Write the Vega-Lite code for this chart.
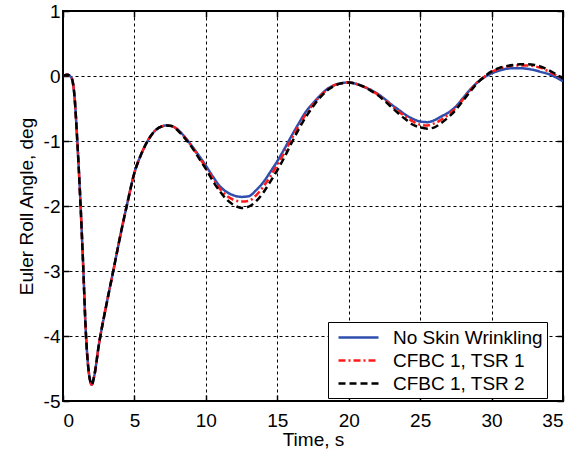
{
  "$schema": "https://vega.github.io/schema/vega-lite/v6.json",
  "width": 500,
  "height": 390,
  "autosize": {"type": "none"},
  "padding": {"left": 63, "top": 11, "right": 18, "bottom": 51},
  "background": "white",
  "config": {
    "view": {"stroke": "black", "strokeWidth": 2},
    "font": "Liberation Sans",
    "axis": {
      "labelFont": "Liberation Sans", "titleFont": "Liberation Sans",
      "labelFontSize": 19, "titleFontSize": 19, "labelColor": "black", "titleColor": "black",
      "titleFontWeight": "normal", "domain": false,
      "grid": true, "gridColor": "black", "gridOpacity": 1, "gridDash": [3, 3], "gridWidth": 1,
      "tickColor": "black", "tickSize": -6, "tickWidth": 1.5,
      "labelExpr": "replace(datum.label, '\u2212', '-')"
    },
    "legend": {"labelFont": "Liberation Sans", "labelFontSize": 19, "labelColor": "black"}
  },
  "resolve": {"axis": {"x": "independent", "y": "independent"}},
  "layer": [
  {
  "data": {"values": [
    {"s":"No Skin Wrinkling","t":0,"v":0},{"s":"No Skin Wrinkling","t":0.3,"v":0.02},{"s":"No Skin Wrinkling","t":0.6,"v":-0.03},{"s":"No Skin Wrinkling","t":0.8,"v":-0.3},{"s":"No Skin Wrinkling","t":1.0,"v":-1.0},{"s":"No Skin Wrinkling","t":1.2,"v":-1.85},{"s":"No Skin Wrinkling","t":1.4,"v":-2.85},{"s":"No Skin Wrinkling","t":1.6,"v":-3.95},{"s":"No Skin Wrinkling","t":1.8,"v":-4.55},{"s":"No Skin Wrinkling","t":1.9,"v":-4.69},{"s":"No Skin Wrinkling","t":2.0,"v":-4.75},{"s":"No Skin Wrinkling","t":2.2,"v":-4.6},{"s":"No Skin Wrinkling","t":2.5,"v":-4.15},{"s":"No Skin Wrinkling","t":3.0,"v":-3.56},{"s":"No Skin Wrinkling","t":3.5,"v":-3.02},{"s":"No Skin Wrinkling","t":4.0,"v":-2.47},{"s":"No Skin Wrinkling","t":4.5,"v":-1.96},{"s":"No Skin Wrinkling","t":5.0,"v":-1.49},{"s":"No Skin Wrinkling","t":5.5,"v":-1.19},{"s":"No Skin Wrinkling","t":6.0,"v":-0.97},{"s":"No Skin Wrinkling","t":6.5,"v":-0.83},{"s":"No Skin Wrinkling","t":7.0,"v":-0.77},{"s":"No Skin Wrinkling","t":7.3,"v":-0.76},{"s":"No Skin Wrinkling","t":7.6,"v":-0.77},{"s":"No Skin Wrinkling","t":8.0,"v":-0.82},{"s":"No Skin Wrinkling","t":8.5,"v":-0.93},{"s":"No Skin Wrinkling","t":9.0,"v":-1.07},{"s":"No Skin Wrinkling","t":9.5,"v":-1.22},{"s":"No Skin Wrinkling","t":10.0,"v":-1.38},{"s":"No Skin Wrinkling","t":10.5,"v":-1.55},{"s":"No Skin Wrinkling","t":11.0,"v":-1.7},{"s":"No Skin Wrinkling","t":11.5,"v":-1.79},{"s":"No Skin Wrinkling","t":12.0,"v":-1.84},{"s":"No Skin Wrinkling","t":12.5,"v":-1.86},{"s":"No Skin Wrinkling","t":13.0,"v":-1.85},{"s":"No Skin Wrinkling","t":13.5,"v":-1.76},{"s":"No Skin Wrinkling","t":14.0,"v":-1.64},{"s":"No Skin Wrinkling","t":14.5,"v":-1.48},{"s":"No Skin Wrinkling","t":15.0,"v":-1.31},{"s":"No Skin Wrinkling","t":15.5,"v":-1.12},{"s":"No Skin Wrinkling","t":16.0,"v":-0.92},{"s":"No Skin Wrinkling","t":16.5,"v":-0.73},{"s":"No Skin Wrinkling","t":17.0,"v":-0.55},{"s":"No Skin Wrinkling","t":17.5,"v":-0.42},{"s":"No Skin Wrinkling","t":18.0,"v":-0.3},{"s":"No Skin Wrinkling","t":18.5,"v":-0.2},{"s":"No Skin Wrinkling","t":19.0,"v":-0.14},{"s":"No Skin Wrinkling","t":19.5,"v":-0.11},{"s":"No Skin Wrinkling","t":20.0,"v":-0.1},{"s":"No Skin Wrinkling","t":20.5,"v":-0.12},{"s":"No Skin Wrinkling","t":21.0,"v":-0.16},{"s":"No Skin Wrinkling","t":21.5,"v":-0.21},{"s":"No Skin Wrinkling","t":22.0,"v":-0.27},{"s":"No Skin Wrinkling","t":22.5,"v":-0.35},{"s":"No Skin Wrinkling","t":23.0,"v":-0.44},{"s":"No Skin Wrinkling","t":23.5,"v":-0.52},{"s":"No Skin Wrinkling","t":24.0,"v":-0.6},{"s":"No Skin Wrinkling","t":24.5,"v":-0.66},{"s":"No Skin Wrinkling","t":25.0,"v":-0.7},{"s":"No Skin Wrinkling","t":25.5,"v":-0.71},{"s":"No Skin Wrinkling","t":26.0,"v":-0.68},{"s":"No Skin Wrinkling","t":26.5,"v":-0.62},{"s":"No Skin Wrinkling","t":27.0,"v":-0.56},{"s":"No Skin Wrinkling","t":27.5,"v":-0.47},{"s":"No Skin Wrinkling","t":28.0,"v":-0.34},{"s":"No Skin Wrinkling","t":28.5,"v":-0.21},{"s":"No Skin Wrinkling","t":29.0,"v":-0.1},{"s":"No Skin Wrinkling","t":29.5,"v":-0.02},{"s":"No Skin Wrinkling","t":30.0,"v":0.04},{"s":"No Skin Wrinkling","t":30.5,"v":0.08},{"s":"No Skin Wrinkling","t":31.0,"v":0.11},{"s":"No Skin Wrinkling","t":31.5,"v":0.12},{"s":"No Skin Wrinkling","t":32.0,"v":0.12},{"s":"No Skin Wrinkling","t":32.5,"v":0.11},{"s":"No Skin Wrinkling","t":33.0,"v":0.09},{"s":"No Skin Wrinkling","t":33.5,"v":0.06},{"s":"No Skin Wrinkling","t":34.0,"v":0.03},{"s":"No Skin Wrinkling","t":34.5,"v":-0.02},{"s":"No Skin Wrinkling","t":35.0,"v":-0.08},

    {"s":"CFBC 1, TSR 1","t":0,"v":0},{"s":"CFBC 1, TSR 1","t":0.3,"v":0.02},{"s":"CFBC 1, TSR 1","t":0.6,"v":-0.03},{"s":"CFBC 1, TSR 1","t":0.8,"v":-0.3},{"s":"CFBC 1, TSR 1","t":1.0,"v":-1.0},{"s":"CFBC 1, TSR 1","t":1.2,"v":-1.85},{"s":"CFBC 1, TSR 1","t":1.4,"v":-2.85},{"s":"CFBC 1, TSR 1","t":1.6,"v":-3.95},{"s":"CFBC 1, TSR 1","t":1.8,"v":-4.55},{"s":"CFBC 1, TSR 1","t":1.9,"v":-4.69},{"s":"CFBC 1, TSR 1","t":2.0,"v":-4.75},{"s":"CFBC 1, TSR 1","t":2.2,"v":-4.6},{"s":"CFBC 1, TSR 1","t":2.5,"v":-4.15},{"s":"CFBC 1, TSR 1","t":3.0,"v":-3.56},{"s":"CFBC 1, TSR 1","t":3.5,"v":-3.02},{"s":"CFBC 1, TSR 1","t":4.0,"v":-2.47},{"s":"CFBC 1, TSR 1","t":4.5,"v":-1.96},{"s":"CFBC 1, TSR 1","t":5.0,"v":-1.49},{"s":"CFBC 1, TSR 1","t":5.5,"v":-1.19},{"s":"CFBC 1, TSR 1","t":6.0,"v":-0.97},{"s":"CFBC 1, TSR 1","t":6.5,"v":-0.83},{"s":"CFBC 1, TSR 1","t":7.0,"v":-0.77},{"s":"CFBC 1, TSR 1","t":7.3,"v":-0.76},{"s":"CFBC 1, TSR 1","t":7.6,"v":-0.77},{"s":"CFBC 1, TSR 1","t":8.0,"v":-0.82},{"s":"CFBC 1, TSR 1","t":8.5,"v":-0.94},{"s":"CFBC 1, TSR 1","t":9.0,"v":-1.08},{"s":"CFBC 1, TSR 1","t":9.5,"v":-1.24},{"s":"CFBC 1, TSR 1","t":10.0,"v":-1.41},{"s":"CFBC 1, TSR 1","t":10.5,"v":-1.58},{"s":"CFBC 1, TSR 1","t":11.0,"v":-1.74},{"s":"CFBC 1, TSR 1","t":11.5,"v":-1.85},{"s":"CFBC 1, TSR 1","t":12.0,"v":-1.91},{"s":"CFBC 1, TSR 1","t":12.5,"v":-1.93},{"s":"CFBC 1, TSR 1","t":13.0,"v":-1.92},{"s":"CFBC 1, TSR 1","t":13.5,"v":-1.84},{"s":"CFBC 1, TSR 1","t":14.0,"v":-1.71},{"s":"CFBC 1, TSR 1","t":14.5,"v":-1.55},{"s":"CFBC 1, TSR 1","t":15.0,"v":-1.37},{"s":"CFBC 1, TSR 1","t":15.5,"v":-1.18},{"s":"CFBC 1, TSR 1","t":16.0,"v":-0.97},{"s":"CFBC 1, TSR 1","t":16.5,"v":-0.77},{"s":"CFBC 1, TSR 1","t":17.0,"v":-0.59},{"s":"CFBC 1, TSR 1","t":17.5,"v":-0.44},{"s":"CFBC 1, TSR 1","t":18.0,"v":-0.31},{"s":"CFBC 1, TSR 1","t":18.5,"v":-0.21},{"s":"CFBC 1, TSR 1","t":19.0,"v":-0.14},{"s":"CFBC 1, TSR 1","t":19.5,"v":-0.11},{"s":"CFBC 1, TSR 1","t":20.0,"v":-0.1},{"s":"CFBC 1, TSR 1","t":20.5,"v":-0.12},{"s":"CFBC 1, TSR 1","t":21.0,"v":-0.16},{"s":"CFBC 1, TSR 1","t":21.5,"v":-0.21},{"s":"CFBC 1, TSR 1","t":22.0,"v":-0.28},{"s":"CFBC 1, TSR 1","t":22.5,"v":-0.36},{"s":"CFBC 1, TSR 1","t":23.0,"v":-0.46},{"s":"CFBC 1, TSR 1","t":23.5,"v":-0.55},{"s":"CFBC 1, TSR 1","t":24.0,"v":-0.63},{"s":"CFBC 1, TSR 1","t":24.5,"v":-0.7},{"s":"CFBC 1, TSR 1","t":25.0,"v":-0.75},{"s":"CFBC 1, TSR 1","t":25.5,"v":-0.76},{"s":"CFBC 1, TSR 1","t":26.0,"v":-0.73},{"s":"CFBC 1, TSR 1","t":26.5,"v":-0.67},{"s":"CFBC 1, TSR 1","t":27.0,"v":-0.59},{"s":"CFBC 1, TSR 1","t":27.5,"v":-0.49},{"s":"CFBC 1, TSR 1","t":28.0,"v":-0.36},{"s":"CFBC 1, TSR 1","t":28.5,"v":-0.22},{"s":"CFBC 1, TSR 1","t":29.0,"v":-0.1},{"s":"CFBC 1, TSR 1","t":29.5,"v":-0.01},{"s":"CFBC 1, TSR 1","t":30.0,"v":0.06},{"s":"CFBC 1, TSR 1","t":30.5,"v":0.11},{"s":"CFBC 1, TSR 1","t":31.0,"v":0.14},{"s":"CFBC 1, TSR 1","t":31.5,"v":0.16},{"s":"CFBC 1, TSR 1","t":32.0,"v":0.16},{"s":"CFBC 1, TSR 1","t":32.5,"v":0.16},{"s":"CFBC 1, TSR 1","t":33.0,"v":0.15},{"s":"CFBC 1, TSR 1","t":33.5,"v":0.12},{"s":"CFBC 1, TSR 1","t":34.0,"v":0.07},{"s":"CFBC 1, TSR 1","t":34.5,"v":0.01},{"s":"CFBC 1, TSR 1","t":35.0,"v":-0.05},

    {"s":"CFBC 1, TSR 2","t":0,"v":0},{"s":"CFBC 1, TSR 2","t":0.3,"v":0.02},{"s":"CFBC 1, TSR 2","t":0.6,"v":-0.03},{"s":"CFBC 1, TSR 2","t":0.8,"v":-0.3},{"s":"CFBC 1, TSR 2","t":1.0,"v":-1.0},{"s":"CFBC 1, TSR 2","t":1.2,"v":-1.85},{"s":"CFBC 1, TSR 2","t":1.4,"v":-2.85},{"s":"CFBC 1, TSR 2","t":1.6,"v":-3.95},{"s":"CFBC 1, TSR 2","t":1.8,"v":-4.55},{"s":"CFBC 1, TSR 2","t":1.9,"v":-4.69},{"s":"CFBC 1, TSR 2","t":2.0,"v":-4.75},{"s":"CFBC 1, TSR 2","t":2.2,"v":-4.6},{"s":"CFBC 1, TSR 2","t":2.5,"v":-4.15},{"s":"CFBC 1, TSR 2","t":3.0,"v":-3.56},{"s":"CFBC 1, TSR 2","t":3.5,"v":-3.02},{"s":"CFBC 1, TSR 2","t":4.0,"v":-2.47},{"s":"CFBC 1, TSR 2","t":4.5,"v":-1.96},{"s":"CFBC 1, TSR 2","t":5.0,"v":-1.49},{"s":"CFBC 1, TSR 2","t":5.5,"v":-1.19},{"s":"CFBC 1, TSR 2","t":6.0,"v":-0.97},{"s":"CFBC 1, TSR 2","t":6.5,"v":-0.83},{"s":"CFBC 1, TSR 2","t":7.0,"v":-0.77},{"s":"CFBC 1, TSR 2","t":7.3,"v":-0.76},{"s":"CFBC 1, TSR 2","t":7.6,"v":-0.77},{"s":"CFBC 1, TSR 2","t":8.0,"v":-0.83},{"s":"CFBC 1, TSR 2","t":8.5,"v":-0.95},{"s":"CFBC 1, TSR 2","t":9.0,"v":-1.09},{"s":"CFBC 1, TSR 2","t":9.5,"v":-1.26},{"s":"CFBC 1, TSR 2","t":10.0,"v":-1.43},{"s":"CFBC 1, TSR 2","t":10.5,"v":-1.62},{"s":"CFBC 1, TSR 2","t":11.0,"v":-1.78},{"s":"CFBC 1, TSR 2","t":11.5,"v":-1.91},{"s":"CFBC 1, TSR 2","t":12.0,"v":-1.99},{"s":"CFBC 1, TSR 2","t":12.5,"v":-2.03},{"s":"CFBC 1, TSR 2","t":13.0,"v":-2.01},{"s":"CFBC 1, TSR 2","t":13.5,"v":-1.93},{"s":"CFBC 1, TSR 2","t":14.0,"v":-1.8},{"s":"CFBC 1, TSR 2","t":14.5,"v":-1.63},{"s":"CFBC 1, TSR 2","t":15.0,"v":-1.45},{"s":"CFBC 1, TSR 2","t":15.5,"v":-1.25},{"s":"CFBC 1, TSR 2","t":16.0,"v":-1.03},{"s":"CFBC 1, TSR 2","t":16.5,"v":-0.82},{"s":"CFBC 1, TSR 2","t":17.0,"v":-0.63},{"s":"CFBC 1, TSR 2","t":17.5,"v":-0.47},{"s":"CFBC 1, TSR 2","t":18.0,"v":-0.33},{"s":"CFBC 1, TSR 2","t":18.5,"v":-0.22},{"s":"CFBC 1, TSR 2","t":19.0,"v":-0.15},{"s":"CFBC 1, TSR 2","t":19.5,"v":-0.11},{"s":"CFBC 1, TSR 2","t":20.0,"v":-0.1},{"s":"CFBC 1, TSR 2","t":20.5,"v":-0.12},{"s":"CFBC 1, TSR 2","t":21.0,"v":-0.16},{"s":"CFBC 1, TSR 2","t":21.5,"v":-0.22},{"s":"CFBC 1, TSR 2","t":22.0,"v":-0.29},{"s":"CFBC 1, TSR 2","t":22.5,"v":-0.38},{"s":"CFBC 1, TSR 2","t":23.0,"v":-0.48},{"s":"CFBC 1, TSR 2","t":23.5,"v":-0.58},{"s":"CFBC 1, TSR 2","t":24.0,"v":-0.67},{"s":"CFBC 1, TSR 2","t":24.5,"v":-0.75},{"s":"CFBC 1, TSR 2","t":25.0,"v":-0.79},{"s":"CFBC 1, TSR 2","t":25.5,"v":-0.81},{"s":"CFBC 1, TSR 2","t":26.0,"v":-0.79},{"s":"CFBC 1, TSR 2","t":26.5,"v":-0.72},{"s":"CFBC 1, TSR 2","t":27.0,"v":-0.63},{"s":"CFBC 1, TSR 2","t":27.5,"v":-0.52},{"s":"CFBC 1, TSR 2","t":28.0,"v":-0.38},{"s":"CFBC 1, TSR 2","t":28.5,"v":-0.24},{"s":"CFBC 1, TSR 2","t":29.0,"v":-0.11},{"s":"CFBC 1, TSR 2","t":29.5,"v":-0.01},{"s":"CFBC 1, TSR 2","t":30.0,"v":0.07},{"s":"CFBC 1, TSR 2","t":30.5,"v":0.12},{"s":"CFBC 1, TSR 2","t":31.0,"v":0.15},{"s":"CFBC 1, TSR 2","t":31.5,"v":0.17},{"s":"CFBC 1, TSR 2","t":32.0,"v":0.18},{"s":"CFBC 1, TSR 2","t":32.5,"v":0.18},{"s":"CFBC 1, TSR 2","t":33.0,"v":0.17},{"s":"CFBC 1, TSR 2","t":33.5,"v":0.14},{"s":"CFBC 1, TSR 2","t":34.0,"v":0.09},{"s":"CFBC 1, TSR 2","t":34.5,"v":0.03},{"s":"CFBC 1, TSR 2","t":35.0,"v":-0.04}
  ]},
  "mark": {"type": "line", "strokeWidth": 2.5, "interpolate": "monotone", "clip": true},
  "encoding": {
    "x": {"field": "t", "type": "quantitative", "scale": {"domain": [0, 35], "nice": false, "zero": false},
      "axis": {"values": [0,5,10,15,20,25,30,35], "title": "Time, s", "labelPadding": 16, "titlePadding": 0}},
    "y": {"field": "v", "type": "quantitative", "scale": {"domain": [-5, 1], "nice": false, "zero": false},
      "axis": {"values": [-5,-4,-3,-2,-1,0,1], "title": "Euler Roll Angle, deg", "labelPadding": 9, "titlePadding": 7}},
    "color": {"field": "s", "type": "nominal",
      "scale": {"domain": ["No Skin Wrinkling", "CFBC 1, TSR 1", "CFBC 1, TSR 2"], "range": ["#2f4fae", "#ff1a1a", "#000000"]},
      "legend": {"title": null, "orient": "none", "legendX": 265, "legendY": 311, "direction": "vertical",
        "strokeColor": "black", "fillColor": "white", "padding": 4, "symbolOffset": 15, "symbolType": "M-2,0H2", "symbolSize": 400,
        "symbolStrokeWidth": 2.5, "rowPadding": 1, "labelOffset": 23, "offset": 0}},
    "strokeDash": {"field": "s", "type": "nominal",
      "scale": {"domain": ["No Skin Wrinkling", "CFBC 1, TSR 1", "CFBC 1, TSR 2"], "range": [[1, 0], [7, 3, 2, 3], [7, 4]]},
      "legend": null},
    "order": {"field": "t", "type": "quantitative"}
  }
  },
  {
    "data": {"values": [{"t": 0, "v": 0}]},
    "mark": {"type": "point", "opacity": 0},
    "encoding": {
      "x": {"field": "t", "type": "quantitative", "axis": {"orient": "top", "values": [0,5,10,15,20,25,30,35], "labels": false, "grid": false, "title": null}},
      "y": {"field": "v", "type": "quantitative", "axis": {"orient": "right", "values": [-5,-4,-3,-2,-1,0,1], "labels": false, "grid": false, "title": null}}
    }
  }
  ]
}
